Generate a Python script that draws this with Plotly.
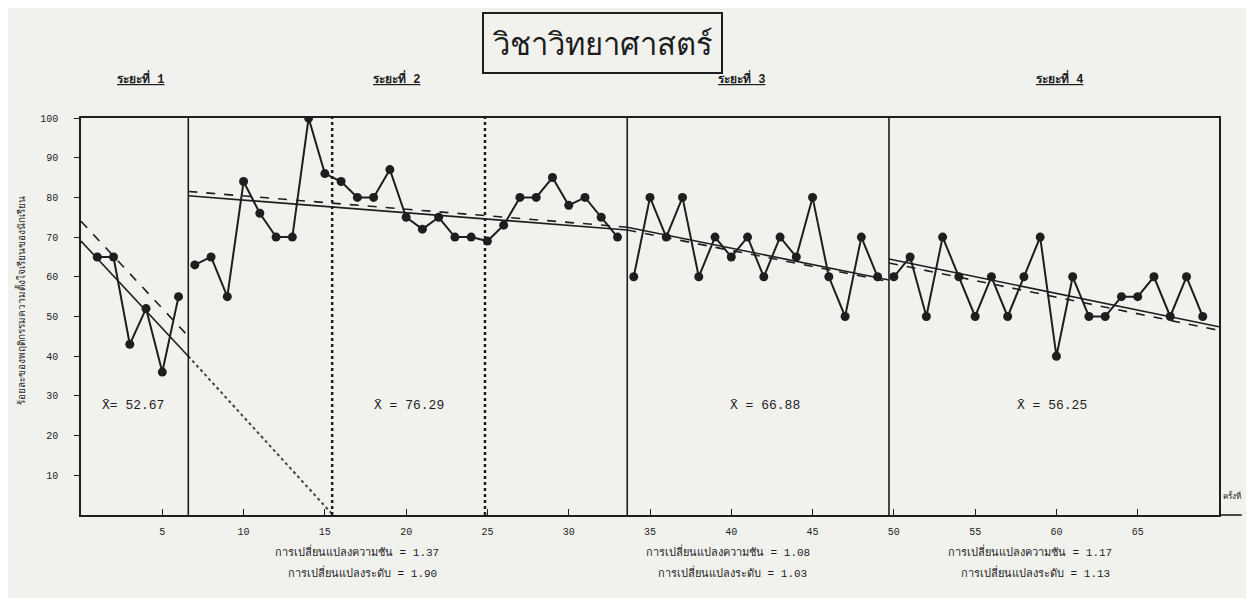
import plotly.graph_objects as go

# ---------------- data ----------------
phase1_sessions = [1, 2, 3, 4, 5, 6]
phase1_vals = [65, 65, 43, 52, 36, 55]
phase2_sessions = list(range(7, 34))
phase2_vals = [63, 65, 55, 84, 76, 70, 70, 100, 86, 84, 80, 80, 87, 75, 72, 75,
               70, 70, 69, 73, 80, 80, 85, 78, 80, 75, 70]
phase3_sessions = list(range(34, 50))
phase3_vals = [60, 80, 70, 80, 60, 70, 65, 70, 60, 70, 65, 80, 60, 50, 70, 60]
phase4_sessions = list(range(50, 70))
phase4_vals = [60, 65, 50, 70, 60, 50, 60, 50, 60, 70, 40, 60, 50, 50, 55, 55,
               60, 50, 60, 50]

# trend lines (solid = least squares, dashed = split-middle)
trend_solid = [([0, 6.6], [69, 40]), ([6.6, 33.6], [80.4, 71.8]),
               ([33.6, 49.7], [72.5, 59.2]), ([49.7, 70], [64.5, 47.4])]
trend_dashed = [([0, 6.6], [74, 45]), ([6.6, 33.6], [81.5, 72.5]),
                ([33.6, 49.7], [71.8, 58.8]), ([49.7, 70], [63.5, 46.5])]
extension_x = [6.6, 15.5]
extension_y = [40, 0]

phase_bounds = [6.6, 33.6, 49.7]
split_lines = [15.45, 24.85]

phase_labels = ["ระยะที่ 1", "ระยะที่ 2", "ระยะที่ 3", "ระยะที่ 4"]
phase_label_x = [3.65, 19.4, 40.6, 60.2]
mean_labels = ["X̄= 52.67", "X̄ = 76.29", "X̄ = 66.88", "X̄ = 56.25"]
mean_label_x = [3.2, 20.2, 42.1, 59.7]
slope_texts = ["การเปลี่ยนแปลงความชัน = 1.37", "การเปลี่ยนแปลงความชัน = 1.08",
               "การเปลี่ยนแปลงความชัน = 1.17"]
level_texts = ["การเปลี่ยนแปลงระดับ = 1.90", "การเปลี่ยนแปลงระดับ = 1.03",
               "การเปลี่ยนแปลงระดับ = 1.13"]
change_text_x = [17.0, 39.8, 58.4]

x_ticks = [5, 10, 15, 20, 25, 30, 35, 40, 45, 50, 55, 60, 65]
y_ticks = [10, 20, 30, 40, 50, 60, 70, 80, 90, 100]

title_text = "วิชาวิทยาศาสตร์"
y_title = "ร้อยละของพฤติกรรมความตั้งใจเรียนของนักเรียน"
x_title = "ครั้งที่"

INK = "#1e1e1e"
FONT = "Liberation Mono, DejaVu Sans Mono, Noto Sans, sans-serif"

fig = go.Figure()

for xs, ys in [(phase1_sessions, phase1_vals), (phase2_sessions, phase2_vals),
               (phase3_sessions, phase3_vals), (phase4_sessions, phase4_vals)]:
    fig.add_trace(go.Scatter(x=xs, y=ys, mode="lines+markers",
                             line=dict(color=INK, width=2),
                             marker=dict(color=INK, size=9),
                             showlegend=False, hoverinfo="skip"))

for xs, ys in trend_solid:
    fig.add_trace(go.Scatter(x=xs, y=ys, mode="lines",
                             line=dict(color=INK, width=1.6),
                             showlegend=False, hoverinfo="skip"))
for xs, ys in trend_dashed:
    fig.add_trace(go.Scatter(x=xs, y=ys, mode="lines",
                             line=dict(color=INK, width=1.6, dash="dash"),
                             showlegend=False, hoverinfo="skip"))
fig.add_trace(go.Scatter(x=extension_x, y=extension_y, mode="lines",
                         line=dict(color="#444", width=2, dash="dot"),
                         showlegend=False, hoverinfo="skip"))

shapes = []
for b in phase_bounds:
    shapes.append(dict(type="line", xref="x", yref="y", x0=b, x1=b, y0=0, y1=100,
                       line=dict(color=INK, width=1.6)))
for s in split_lines:
    shapes.append(dict(type="line", xref="x", yref="y", x0=s, x1=s, y0=0, y1=100,
                       line=dict(color=INK, width=2.5, dash="dot")))
# x axis extension to the unit label
shapes.append(dict(type="line", xref="paper", yref="paper", x0=1, x1=1.02, y0=0, y1=0,
                   line=dict(color=INK, width=1.6)))

annotations = []
annotations.append(dict(text=title_text, xref="paper", yref="paper", x=0.458, y=1.189,
                        xanchor="center", yanchor="middle",
                        showarrow=False, font=dict(size=31, color=INK, family="Noto Sans, sans-serif"),
                        bordercolor=INK, borderwidth=2, borderpad=8, bgcolor="rgba(0,0,0,0)"))
for t, x in zip(phase_labels, phase_label_x):
    annotations.append(dict(text="<u><b>" + t + "</b></u>", xref="x", yref="paper", x=x, y=1.1,
                            xanchor="center", yanchor="middle",
                            showarrow=False, font=dict(size=12, color=INK, family=FONT)))
for t, x in zip(mean_labels, mean_label_x):
    annotations.append(dict(text=t, xref="x", yref="y", x=x, y=27.5, showarrow=False,
                            xanchor="center", yanchor="middle",
                            font=dict(size=13, color=INK, family=FONT)))
for t, x in zip(slope_texts, change_text_x):
    annotations.append(dict(text=t, xref="x", yref="paper", x=x, y=-0.091, showarrow=False,
                            xanchor="center", yanchor="middle",
                            font=dict(size=11, color=INK, family=FONT)))
for t, x in zip(level_texts, change_text_x):
    annotations.append(dict(text=t, xref="x", yref="paper", x=x + 0.3, y=-0.146, showarrow=False,
                            xanchor="center", yanchor="middle",
                            font=dict(size=11, color=INK, family=FONT)))
annotations.append(dict(text=x_title, xref="paper", yref="paper", x=1.002, y=0.05,
                        xanchor="left", yanchor="middle", showarrow=False,
                        font=dict(size=8, color=INK, family="Noto Sans, sans-serif")))
annotations.append(dict(text=y_title, xref="paper", yref="paper", x=-0.053, y=0.54,
                        xanchor="center", yanchor="middle",
                        textangle=-90, showarrow=False,
                        font=dict(size=10, color=INK, family=FONT)))

# page body has an 8px margin: shrink figure so the plot lands where the reference has it
fig.update_layout(
    width=1246, height=590,
    margin=dict(l=73, r=35, t=110, b=83),
    paper_bgcolor="#f1f1ee", plot_bgcolor="#f1f1ee",
    shapes=shapes, annotations=annotations,
    font=dict(family=FONT, color=INK),
)
fig.update_xaxes(range=[0, 70], tickvals=x_ticks, ticktext=[str(v) for v in x_ticks],
                 showgrid=False, zeroline=False, showline=True, linecolor=INK, linewidth=1.6,
                 mirror=True, ticks="inside", ticklen=6, tickcolor=INK,
                 tickfont=dict(size=10, color=INK), ticklabelstandoff=6)
fig.update_yaxes(range=[0, 100], tickvals=y_ticks, ticktext=[str(v) for v in y_ticks],
                 showgrid=False, zeroline=False, showline=True, linecolor=INK, linewidth=1.6,
                 mirror=True, ticks="outside", ticklen=5, tickcolor=INK,
                 tickfont=dict(size=10, color=INK), ticklabelstandoff=14)

fig.write_html("out.html")
